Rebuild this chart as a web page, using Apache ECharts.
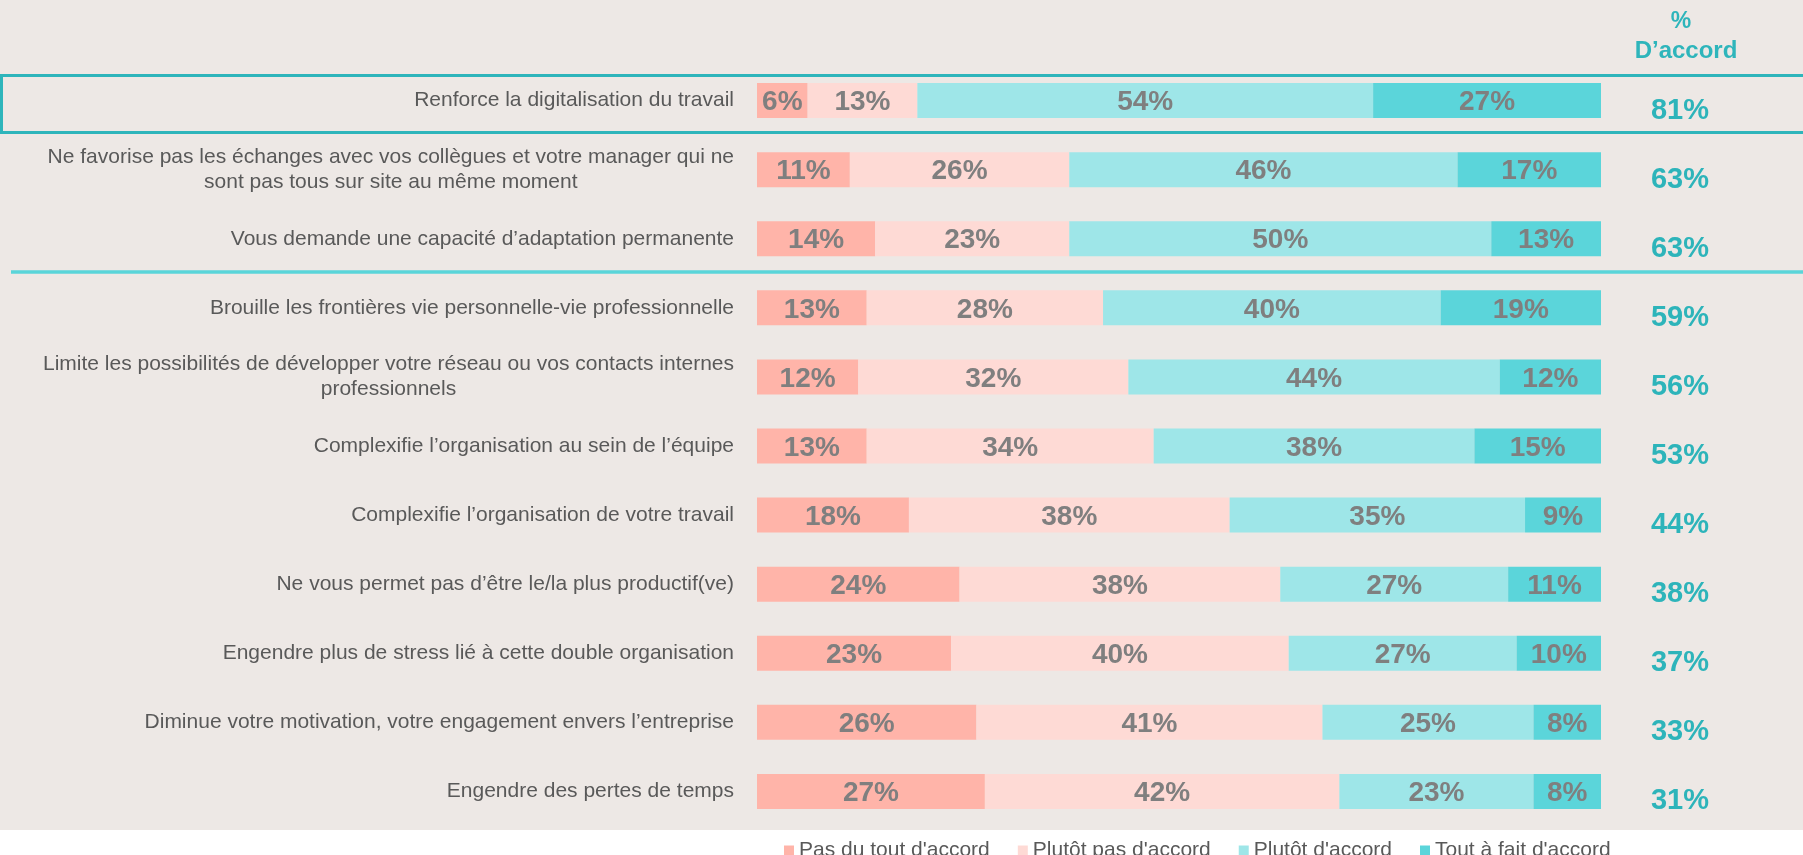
<!DOCTYPE html>
<html>
<head>
<meta charset="utf-8">
<script src="https://cdn.jsdelivr.net/npm/echarts@6/dist/echarts.min.js"></script>
<style>
html,body{margin:0;padding:0;background:#fff;}
#chart{width:1803px;height:855px;}
</style>
</head>
<body>
<div id="chart"></div>
<script>
const categories = [
  "Renforce la digitalisation du travail",
  "Ne favorise pas les échanges avec vos collègues et votre manager qui ne\nsont pas tous sur site au même moment",
  "Vous demande une capacité d’adaptation permanente",
  "Brouille les frontières vie personnelle-vie professionnelle",
  "Limite les possibilités de développer votre réseau ou vos contacts internes\nprofessionnels",
  "Complexifie l’organisation au sein de l’équipe",
  "Complexifie l’organisation de votre travail",
  "Ne vous permet pas d’être le/la plus productif(ve)",
  "Engendre plus de stress lié à cette double organisation",
  "Diminue votre motivation, votre engagement envers l’entreprise",
  "Engendre des pertes de temps"
];
const seriesNames = ["Pas du tout d'accord", "Plutôt pas d'accord", "Plutôt d'accord", "Tout à fait d'accord"];
const pasDuTout   = [6, 11, 14, 13, 12, 13, 18, 24, 23, 26, 27];
const plutotPas   = [13, 26, 23, 28, 32, 34, 38, 38, 40, 41, 42];
const plutot      = [54, 46, 50, 40, 44, 38, 35, 27, 27, 25, 23];
const toutAFait   = [27, 17, 13, 19, 12, 15, 9, 11, 10, 8, 8];
const dAccord     = [81, 63, 63, 59, 56, 53, 44, 38, 37, 33, 31];
const colors = ["#FFB4A9", "#FEDAD5", "#9EE6E8", "#5BD5DA"];

const chart = echarts.init(document.getElementById('chart'), null, {renderer: 'canvas'});
const FONT = '"Liberation Sans", Arial, sans-serif';

const valueArrays = [pasDuTout, plutotPas, plutot, toutAFait];
const series = valueArrays.map((arr, i) => ({
  name: seriesNames[i],
  type: 'bar',
  stack: 'total',
  data: arr,
  barWidth: 35,
  itemStyle: { color: colors[i] },
  label: {
    show: true,
    position: 'inside',
    offset: [0, 2],
    formatter: p => p.value + '%',
    color: '#7F7F7F',
    fontSize: 28,
    fontWeight: 'bold',
    fontFamily: FONT
  },
  emphasis: { disabled: true }
}));

chart.setOption({
  backgroundColor: '#ffffff',
  animation: false,
  graphic: [
    { type: 'rect', z: -100, silent: true, shape: { x: 0, y: 0, width: 1803, height: 830 }, style: { fill: '#EDE8E5' } },
    { type: 'rect', z: 100, silent: true, shape: { x: 1.5, y: 75.5, width: 1820, height: 57 }, style: { fill: 'none', stroke: '#2EB5BB', lineWidth: 3 } },
    { type: 'line', z: 100, silent: true, shape: { x1: 11, y1: 272, x2: 1803, y2: 272 }, style: { stroke: '#5AD5D9', lineWidth: 3.5 } },
    { type: 'text', z: 100, silent: true, x: 1681, y: 22, style: { text: '%', fill: '#2EB5BB', font: 'bold 23px ' + FONT, textAlign: 'center', textVerticalAlign: 'middle' } },
    { type: 'text', z: 100, silent: true, x: 1686, y: 51, style: { text: 'D’accord', fill: '#2EB5BB', font: 'bold 24px ' + FONT, textAlign: 'center', textVerticalAlign: 'middle' } }
  ],
  legend: {
    data: seriesNames,
    left: 779,
    top: 835,
    icon: 'rect',
    itemWidth: 10,
    itemHeight: 10,
    itemGap: 28,
    textStyle: { fontSize: 21, color: '#595959', fontFamily: FONT },
    selectedMode: false
  },
  grid: { left: 757, right: 202, top: 66, bottom: 29, containLabel: false },
  xAxis: {
    type: 'value', min: 0, max: 100, show: false
  },
  yAxis: [
    {
      type: 'category',
      data: categories,
      inverse: true,
      position: 'left',
      axisLine: { show: false },
      axisTick: { show: false },
      axisLabel: {
        margin: 23,
        formatter: v => '{a|' + v + '}',
        rich: {
          a: { fontSize: 21, color: '#595959', fontFamily: FONT, lineHeight: 25, align: 'center' }
        }
      }
    },
    {
      type: 'category',
      data: dAccord.map(v => v + '%'),
      inverse: true,
      position: 'right',
      axisLine: { show: false },
      axisTick: { show: false },
      axisLabel: {
        margin: 79,
        align: 'center',
        formatter: v => '{b|' + v + '}',
        rich: {
          b: { fontSize: 29, fontWeight: 'bold', color: '#2DB4BA', fontFamily: FONT, lineHeight: 32, padding: [20, 0, 0, 0] }
        }
      }
    }
  ],
  series: series
});
</script>
</body>
</html>
